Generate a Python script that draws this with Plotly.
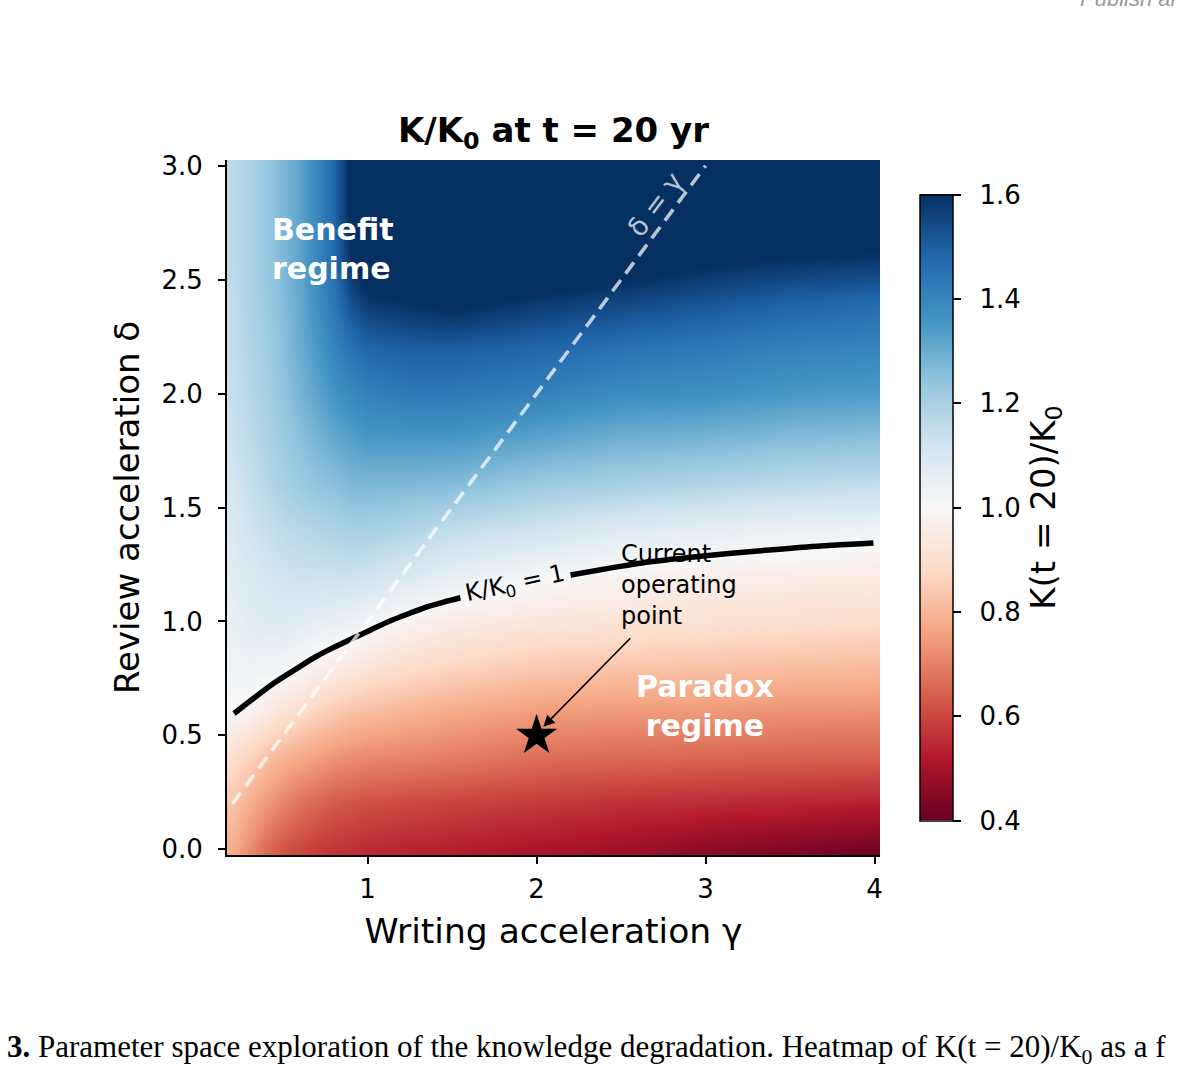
import plotly.graph_objects as go

# ---------------- data ----------------
gamma_nodes = [0.2, 0.3, 0.4, 0.5, 0.6, 0.7, 0.8, 0.9, 1.0, 1.25, 1.5, 2.0, 2.5, 3.0, 3.5, 4.0]
delta_nodes = [0.0, 0.2, 0.4, 0.6, 0.8, 1.0, 1.2, 1.4, 1.6, 1.8, 2.0, 2.2, 2.4, 2.6, 2.8, 3.0]

# K(t=20)/K0, one row per delta node (bottom to top), one value per gamma node
ratio_d00 = [0.78, 0.72, 0.66, 0.62, 0.60, 0.58, 0.57, 0.56, 0.55, 0.54, 0.53, 0.51, 0.49, 0.46, 0.44, 0.42]
ratio_d02 = [0.83, 0.78, 0.74, 0.70, 0.67, 0.65, 0.63, 0.62, 0.61, 0.60, 0.59, 0.575, 0.56, 0.55, 0.54, 0.53]
ratio_d04 = [0.90, 0.86, 0.82, 0.79, 0.77, 0.75, 0.73, 0.72, 0.71, 0.70, 0.69, 0.665, 0.655, 0.65, 0.645, 0.64]
ratio_d06 = [0.995, 0.975, 0.945, 0.91, 0.89, 0.86, 0.84, 0.82, 0.81, 0.79, 0.77, 0.745, 0.74, 0.735, 0.725, 0.72]
ratio_d08 = [1.03, 1.035, 1.03, 1.02, 1.00, 0.97, 0.95, 0.94, 0.92, 0.89, 0.87, 0.84, 0.83, 0.825, 0.815, 0.81]
ratio_d10 = [1.05, 1.07, 1.08, 1.08, 1.07, 1.06, 1.05, 1.04, 1.02, 0.98, 0.955, 0.93, 0.92, 0.91, 0.90, 0.89]
ratio_d12 = [1.07, 1.09, 1.11, 1.12, 1.13, 1.13, 1.13, 1.13, 1.12, 1.09, 1.055, 1.01, 0.985, 0.965, 0.96, 0.95]
ratio_d14 = [1.09, 1.12, 1.14, 1.16, 1.17, 1.18, 1.19, 1.20, 1.20, 1.18, 1.15, 1.12, 1.08, 1.06, 1.04, 1.03]
ratio_d16 = [1.11, 1.14, 1.17, 1.20, 1.22, 1.24, 1.25, 1.27, 1.27, 1.27, 1.26, 1.22, 1.20, 1.18, 1.16, 1.15]
ratio_d18 = [1.13, 1.16, 1.19, 1.22, 1.25, 1.28, 1.31, 1.33, 1.35, 1.35, 1.35, 1.32, 1.29, 1.28, 1.26, 1.25]
ratio_d20 = [1.14, 1.17, 1.20, 1.24, 1.28, 1.32, 1.36, 1.39, 1.41, 1.43, 1.43, 1.41, 1.38, 1.37, 1.35, 1.34]
ratio_d22 = [1.15, 1.18, 1.21, 1.25, 1.30, 1.35, 1.40, 1.45, 1.48, 1.50, 1.50, 1.48, 1.45, 1.43, 1.41, 1.40]
ratio_d24 = [1.15, 1.19, 1.22, 1.26, 1.31, 1.37, 1.44, 1.53, 1.58, 1.60, 1.62, 1.58, 1.55, 1.52, 1.49, 1.47]
ratio_d26 = [1.16, 1.19, 1.23, 1.27, 1.32, 1.39, 1.47, 1.60, 1.68, 1.70, 1.70, 1.70, 1.66, 1.62, 1.60, 1.59]
ratio_d28 = [1.16, 1.19, 1.23, 1.27, 1.32, 1.39, 1.48, 1.62, 1.70, 1.70, 1.70, 1.70, 1.70, 1.70, 1.67, 1.66]
ratio_d30 = [1.16, 1.19, 1.23, 1.27, 1.32, 1.39, 1.48, 1.62, 1.70, 1.70, 1.70, 1.70, 1.70, 1.70, 1.70, 1.70]

# K/K0 = 1 contour (two pieces, gap for the inline label)
contour_gamma = [0.21, 0.33, 0.457, 0.58, 0.693, 0.80, 0.919, 1.03, 1.146, 1.25, 1.343, 1.45, 1.549,
                 None,
                 2.201, 2.45, 2.683, 3.0, 3.274, 3.6, 3.993]
contour_delta = [0.596, 0.665, 0.735, 0.793, 0.845, 0.886, 0.928, 0.967, 1.006, 1.036, 1.062, 1.085, 1.104,
                 None,
                 1.204, 1.236, 1.263, 1.288, 1.307, 1.327, 1.344]

# delta = gamma reference line
diag_gamma = [0.2, 3.0]
diag_delta = [0.2, 3.0]

# current operating point
op_gamma = [2.0]
op_delta = [0.5]

cbar_ticks = [0.4, 0.6, 0.8, 1.0, 1.2, 1.4, 1.6]
cbar_labels = ["0.4", "0.6", "0.8", "1.0", "1.2", "1.4", "1.6"]
x_ticks = [1, 2, 3, 4]
y_ticks = [0.0, 0.5, 1.0, 1.5, 2.0, 2.5, 3.0]

z_rows = [ratio_d00, ratio_d02, ratio_d04, ratio_d06, ratio_d08, ratio_d10, ratio_d12, ratio_d14,
          ratio_d16, ratio_d18, ratio_d20, ratio_d22, ratio_d24, ratio_d26, ratio_d28, ratio_d30]

# matplotlib RdBu
rdbu = [[0.0, "#67001f"], [0.1, "#b2182b"], [0.2, "#d6604d"], [0.3, "#f4a582"], [0.4, "#fddbc7"],
        [0.5, "#f7f7f7"], [0.6, "#d1e5f0"], [0.7, "#92c5de"], [0.8, "#4393c3"], [0.9, "#2166ac"],
        [1.0, "#053061"]]

FONT = "DejaVu Sans"

fig = go.Figure()

fig.add_trace(go.Heatmap(
    x=gamma_nodes, y=delta_nodes, z=z_rows,
    zmin=0.4, zmax=1.6, zsmooth="best", colorscale=rdbu,
    colorbar=dict(
        x=(920 - 227) / 653, xanchor="left", xpad=0,
        y=0.5, yanchor="middle", len=0.9, lenmode="fraction", ypad=0,
        thickness=33, outlinecolor="black", outlinewidth=1.5,
        tickmode="array", tickvals=cbar_ticks,
        ticktext=["<span>&#8194;</span>" + t for t in cbar_labels],
        ticks="outside", ticklen=8, tickwidth=1.5,
        tickcolor="black", tickfont=dict(family=FONT, size=26, color="black"),
        title=dict(text="K(t = 20)/K<sub>0</sub>", side="right",
                   font=dict(family=FONT, size=34, color="black")),
    ),
    hoverinfo="skip",
))

fig.add_trace(go.Scatter(
    x=contour_gamma, y=contour_delta, mode="lines",
    line=dict(color="black", width=5.5, shape="spline", smoothing=0.8),
    connectgaps=False, showlegend=False, hoverinfo="skip",
))

fig.add_trace(go.Scatter(
    x=diag_gamma, y=diag_delta, mode="lines",
    line=dict(color="rgba(255,255,255,0.72)", width=3.6, dash="14px,8px"),
    showlegend=False, hoverinfo="skip",
))

fig.add_trace(go.Scatter(
    x=op_gamma, y=op_delta, mode="markers",
    marker=dict(symbol="star", size=31, color="black", line=dict(width=0)),
    showlegend=False, hoverinfo="skip",
))

annotations = [
    dict(x=0.425, y=2.633, xref="x", yref="y", text="<b>Benefit<br>regime</b>", showarrow=False,
         xanchor="left", yanchor="middle", align="left",
         font=dict(family=FONT, size=30, color="white")),
    dict(x=2.996, y=0.629, xref="x", yref="y", text="<b>Paradox<br>regime</b>", showarrow=False,
         xanchor="center", yanchor="middle", align="center",
         font=dict(family=FONT, size=30, color="white")),
    dict(x=1.874, y=1.16, xref="x", yref="y", text="K/K<sub>0</sub> = 1", showarrow=False,
         textangle=-12, xanchor="center", yanchor="middle",
         font=dict(family=FONT, size=24, color="black")),
    dict(x=2.70, y=2.83, xref="x", yref="y", text="δ = γ", showarrow=False,
         textangle=-53, xanchor="center", yanchor="middle",
         font=dict(family=FONT, size=27, color="rgba(255,255,255,0.72)")),
    dict(x=2.488, y=1.16, xref="x", yref="y", text="Current<br>operating<br>point", showarrow=False,
         xanchor="left", yanchor="middle", align="left",
         font=dict(family=FONT, size=24, color="black")),
    dict(x=2.04, y=0.538, xref="x", yref="y", ax=2.563, ay=0.933, axref="x", ayref="y",
         text="", showarrow=True, arrowhead=2, arrowsize=1.4, arrowwidth=1.6, arrowcolor="black",
         standoff=0),
    # page context around the figure
    dict(x=-222 / 653, y=(855 - 1049) / 695, xref="paper", yref="paper",
         text="<b>3.</b> Parameter space exploration of the knowledge degradation. Heatmap of K(t = 20)/K<sub>0</sub> as a f",
         showarrow=False, xanchor="left", yanchor="middle",
         font=dict(family="Liberation Serif", size=31, color="black")),
    dict(x=(1078 - 227) / 653, y=(855 + 2) / 695, xref="paper", yref="paper",
         text="<i>Publish ar</i>", showarrow=False, xanchor="left", yanchor="middle",
         font=dict(family="Liberation Sans", size=22, color="#9a9a9a")),
]

fig.update_layout(
    width=1179, height=1066,
    margin=dict(l=227, r=299, t=160, b=211, autoexpand=False),
    paper_bgcolor="white", plot_bgcolor="white",
    font=dict(family=FONT, color="black"),
    title=dict(text="<b>K/K<sub>0</sub> at t = 20 yr</b>", x=553.5 / 1179, xanchor="center",
               y=1 - 130 / 1066, yanchor="middle", yref="container",
               font=dict(family=FONT, size=34, color="black")),
    xaxis=dict(range=[0.168, 4.032], tickvals=x_ticks, ticks="outside", ticklen=7, tickwidth=1.5,
               tickcolor="black", showline=True, linecolor="black", linewidth=2, mirror=False,
               showgrid=False, zeroline=False, ticklabelstandoff=3,
               tickfont=dict(family=FONT, size=26, color="black"),
               title=dict(text="Writing acceleration γ", standoff=16,
                          font=dict(family=FONT, size=34.5, color="black"))),
    yaxis=dict(range=[-0.025, 3.025], tickvals=y_ticks, tickformat=".1f", ticks="outside", ticklen=7,
               tickwidth=1.5, tickcolor="black", showline=True, linecolor="black", linewidth=2,
               mirror=False, showgrid=False, zeroline=False, ticklabelstandoff=10,
               tickfont=dict(family=FONT, size=26, color="black"),
               title=dict(text="Review acceleration δ", standoff=12,
                          font=dict(family=FONT, size=34, color="black"))),
    annotations=annotations,
    showlegend=False,
)

fig.write_html("out.html")
